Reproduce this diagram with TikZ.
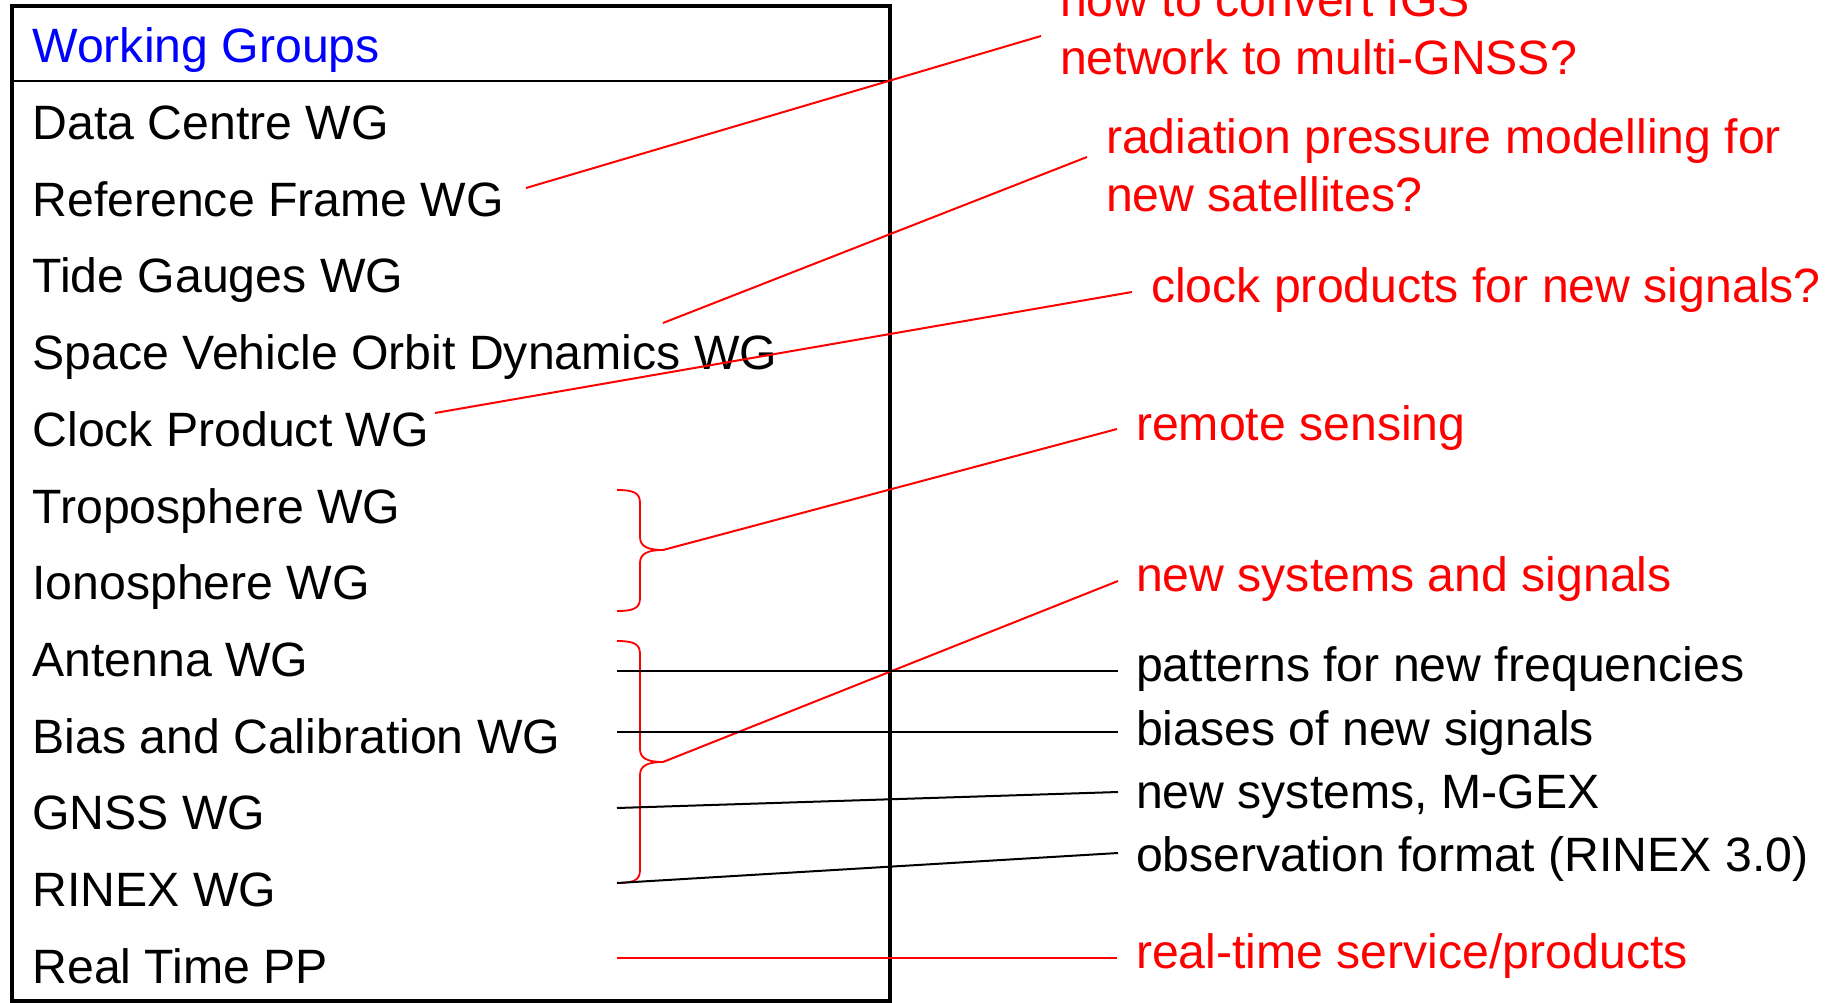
\documentclass[tikz,border=0pt]{standalone}
\usepackage{fontspec}
\setmainfont{Liberation Sans}
\definecolor{pured}{RGB}{255,0,0}
\definecolor{publue}{RGB}{0,0,255}
\begin{document}
\begin{tikzpicture}[x=1pt,y=-1pt,
  txt/.style={anchor=base west,inner sep=0pt,outer sep=0pt,font=\fontsize{48.2}{57}\selectfont},
  rtxt/.style={txt,text=pured},
  rline/.style={draw=pured,line width=2pt},
  bline/.style={draw=black,line width=2pt},
  brace/.style={draw=pured,line width=1.8pt},
  frame/.style={draw=black,line width=4.5pt}]
\useasboundingbox (0,0) rectangle (1834,1002);
\clip (0,0) rectangle (1834,1002);
\fill[white] (0,0) rectangle (1834,1002);
% box
\draw[frame] (12,6) rectangle (890,1001);
\draw[black,line width=2pt] (12,81) -- (890,81);
% left column
\node[txt,text=publue] (wg) at (32.5,62) {Working Groups};
\node[txt] (dc) at (32.5,139.3) {Data Centre WG};
\node[txt] (rf) at (32.5,216.0) {Reference Frame WG};
\node[txt] (tg) at (32.5,292.8) {Tide Gauges WG};
\node[txt] (sv) at (32.5,369.5) {Space Vehicle Orbit Dynamics WG};
\node[txt] (cp) at (32.5,446.2) {Clock Product WG};
\node[txt] (tr) at (32.5,523.0) {Troposphere WG};
\node[txt] (io) at (32.5,599.7) {Ionosphere WG};
\node[txt] (an) at (32.5,676.4) {Antenna WG};
\node[txt] (bc) at (32.5,753.1) {Bias and Calibration WG};
\node[txt] (gn) at (32.5,829.9) {GNSS WG};
\node[txt] (rx) at (32.5,906.6) {RINEX WG};
\node[txt] (rt) at (32.5,983.3) {Real Time PP};
% right column
\node[rtxt] (q1a) at (1060,16) {how to convert IGS};
\node[rtxt] (q1b) at (1060,74) {network to multi-GNSS?};
\node[rtxt] (q2a) at (1106,153) {radiation pressure modelling for};
\node[rtxt] (q2b) at (1106,211) {new satellites?};
\node[rtxt] (q3) at (1151,302.7) {clock products for new signals?};
\node[rtxt] (q4) at (1136,440) {remote sensing};
\node[rtxt] (q5) at (1136,591.7) {new systems and signals};
\node[txt] (p1) at (1136,681.7) {patterns for new frequencies};
\node[txt] (p2) at (1136,745.5) {biases of new signals};
\node[txt] (p3) at (1136,808.3) {new systems, M-GEX};
\node[txt] (p4) at (1136,871.7) {observation format (RINEX 3.0)};
\node[rtxt] (q6) at (1136,968) {real-time service/products};
% connector end points
\coordinate (a1) at (526,188);  \coordinate (b1) at (1041,36);
\coordinate (a2) at (663,323);  \coordinate (b2) at (1087,157);
\coordinate (a3) at (435,413);  \coordinate (b3) at (1132,292);
\coordinate (t1) at (663,550);  \coordinate (b4) at (1117,429);
\coordinate (t2) at (663,762);  \coordinate (b5) at (1118,581);
\coordinate (c1) at (617,671);  \coordinate (d1) at (1118,671);
\coordinate (c2) at (617,732);  \coordinate (d2) at (1118,732);
\coordinate (c3) at (617,808);  \coordinate (d3) at (1118,792);
\coordinate (c4) at (617,883);  \coordinate (d4) at (1118,853);
\coordinate (c5) at (617,958);  \coordinate (d5) at (1117,958);
% braces
\draw[brace] (617,490) .. controls (634,490) and (640,493) .. (640,503) -- (640,537)
  .. controls (640,546) and (647,550) .. (t1)
  .. controls (647,550) and (640,554) .. (640,563) -- (640,598)
  .. controls (640,608) and (634,611) .. (617,611);
\draw[brace] (617,641) .. controls (634,641) and (640,644) .. (640,654) -- (640,749)
  .. controls (640,758) and (647,762) .. (t2)
  .. controls (647,762) and (640,766) .. (640,775) -- (640,870)
  .. controls (640,880) and (634,883) .. (617,883);
% connectors
\draw[rline] (a1) -- (b1);
\draw[rline] (a2) -- (b2);
\draw[rline] (a3) -- (b3);
\draw[rline] (t1) -- (b4);
\draw[rline] (t2) -- (b5);
\draw[bline] (c1) -- (d1);
\draw[bline] (c2) -- (d2);
\draw[bline] (c3) -- (d3);
\draw[bline] (c4) -- (d4);
\draw[rline] (c5) -- (d5);
\end{tikzpicture}
\end{document}
